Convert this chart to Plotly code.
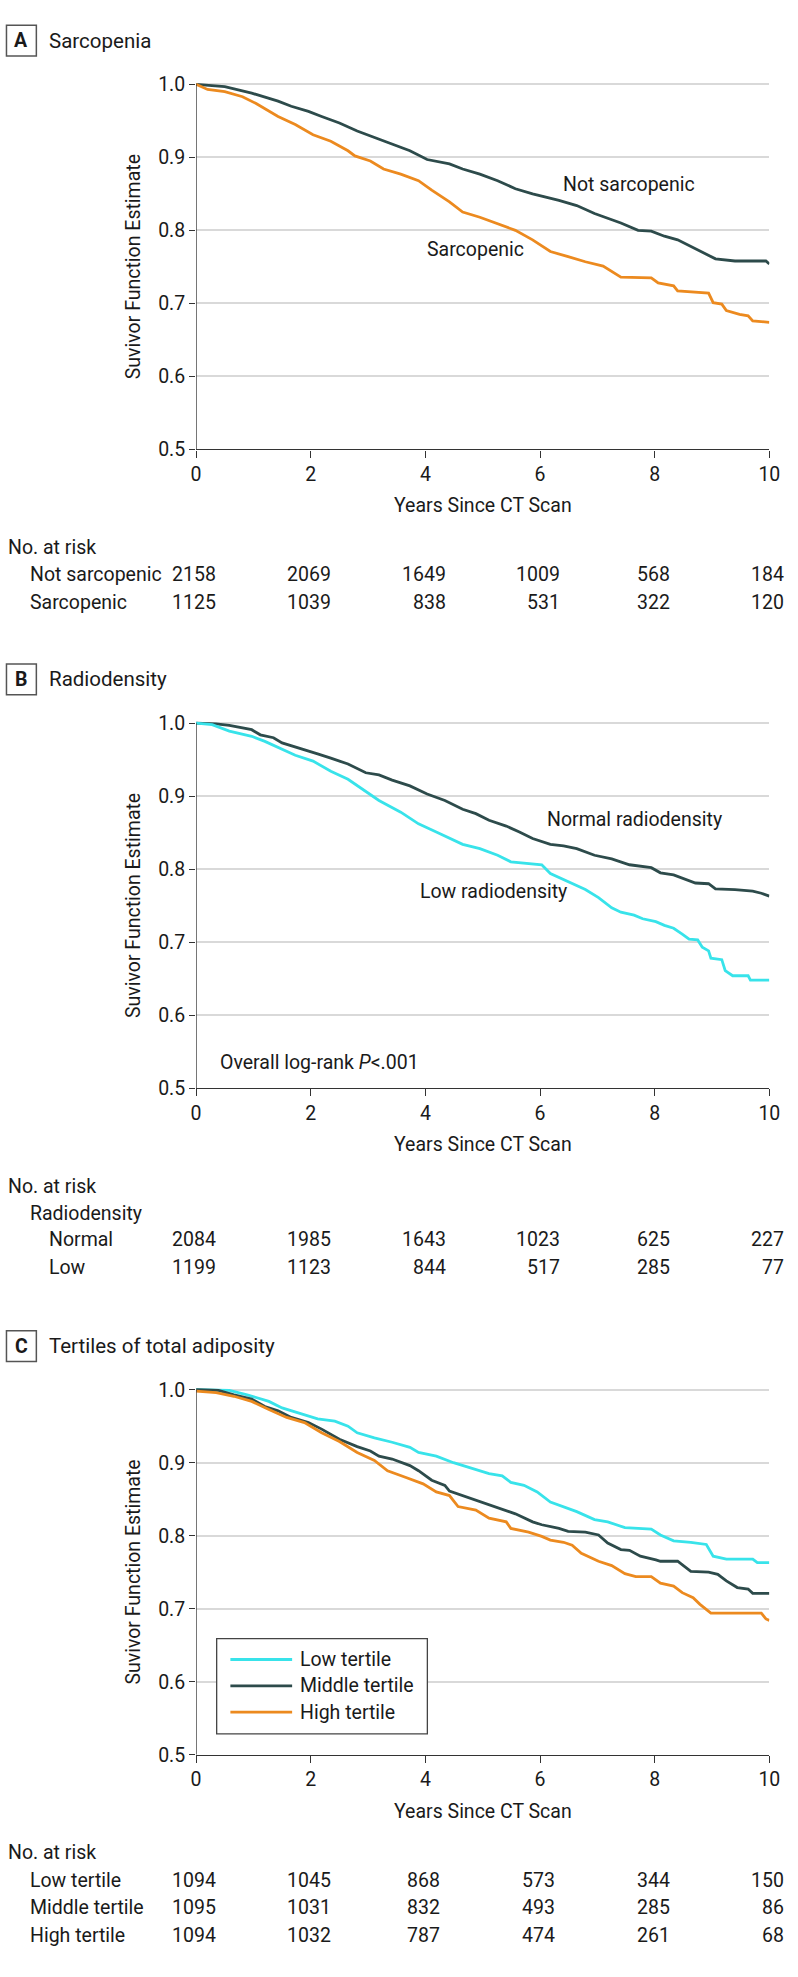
import plotly.graph_objects as go

W, H = 798, 1977
FONT = "Roboto, Open Sans, Noto Sans, DejaVu Sans, sans-serif"
FS = 19.5
TXT = "#1a1a1a"
AX = "#333333"
GRID = "#d9d9d9"
DARK = "#2d4b4b"
ORANGE = "#ec8a1f"
CYAN = "#38e3ea"

x_ticks = [0, 2, 4, 6, 8, 10]
y_ticks = [0.5, 0.6, 0.7, 0.8, 0.9, 1.0]

# ---------------- Panel A: Sarcopenia ----------------
a_not_t = [0.0, 0.16, 0.5, 0.97, 1.43, 1.66, 1.96, 2.19, 2.5, 2.81, 3.19, 3.73, 4.03, 4.42, 4.65,
           4.95, 5.26, 5.57, 5.87, 6.1, 6.33, 6.64, 6.95, 7.41, 7.71, 7.94, 8.17, 8.4, 8.63, 8.86,
           9.06, 9.4, 9.94, 10.0]
a_not_s = [1.0, 0.999, 0.997, 0.988, 0.977, 0.970, 0.963, 0.956, 0.947, 0.936, 0.925, 0.909, 0.897,
           0.891, 0.884, 0.877, 0.868, 0.857, 0.850, 0.846, 0.841, 0.834, 0.823, 0.810, 0.800, 0.799,
           0.792, 0.787, 0.778, 0.769, 0.761, 0.758, 0.758, 0.754]
a_sar_t = [0.0, 0.2, 0.5, 0.81, 1.04, 1.43, 1.73, 2.04, 2.35, 2.65, 2.77, 3.04, 3.27, 3.57, 3.88,
           4.11, 4.42, 4.65, 4.95, 5.26, 5.57, 5.87, 6.18, 6.49, 6.79, 7.1, 7.33, 7.41, 7.94, 8.06,
           8.33, 8.4, 8.94, 9.02, 9.17, 9.25, 9.48, 9.63, 9.71, 10.0]
a_sar_s = [1.0, 0.993, 0.990, 0.983, 0.974, 0.956, 0.945, 0.931, 0.922, 0.909, 0.902, 0.895, 0.884,
           0.877, 0.868, 0.855, 0.839, 0.825, 0.818, 0.809, 0.800, 0.787, 0.771, 0.764, 0.757, 0.751,
           0.739, 0.736, 0.735, 0.728, 0.724, 0.717, 0.714, 0.701, 0.699, 0.690, 0.685, 0.683, 0.676,
           0.674]
a_groups = ["Not sarcopenic", "Sarcopenic"]
a_risk = [[2158, 2069, 1649, 1009, 568, 184],
          [1125, 1039, 838, 531, 322, 120]]

# ---------------- Panel B: Radiodensity ----------------
b_norm_t = [0.0, 0.35, 0.58, 0.97, 1.12, 1.35, 1.5, 1.81, 2.12, 2.35, 2.65, 2.96, 3.19, 3.42, 3.73,
            4.03, 4.34, 4.65, 4.88, 5.11, 5.41, 5.64, 5.87, 6.18, 6.41, 6.64, 6.95, 7.25, 7.56, 7.94,
            8.1, 8.33, 8.71, 8.94, 9.06, 9.4, 9.71, 9.86, 10.0]
b_norm_s = [1.0, 0.999, 0.997, 0.991, 0.984, 0.980, 0.973, 0.966, 0.958, 0.952, 0.944, 0.932, 0.929,
            0.922, 0.914, 0.903, 0.894, 0.882, 0.876, 0.867, 0.859, 0.851, 0.842, 0.834, 0.832, 0.828,
            0.819, 0.814, 0.806, 0.802, 0.795, 0.792, 0.781, 0.780, 0.773, 0.772, 0.770, 0.767, 0.763]
b_low_t = [0.0, 0.28, 0.58, 0.97, 1.2, 1.5, 1.73, 2.04, 2.35, 2.65, 2.96, 3.19, 3.57, 3.88, 4.19,
           4.49, 4.65, 4.95, 5.26, 5.49, 5.72, 6.03, 6.18, 6.49, 6.79, 7.02, 7.25, 7.41, 7.64, 7.79,
           8.02, 8.17, 8.33, 8.48, 8.6, 8.75, 8.83, 8.94, 8.98, 9.17, 9.23, 9.36, 9.63, 9.67, 10.0]
b_low_s = [1.0, 0.998, 0.989, 0.982, 0.975, 0.964, 0.956, 0.948, 0.934, 0.923, 0.907, 0.894, 0.878,
           0.862, 0.851, 0.840, 0.834, 0.828, 0.819, 0.810, 0.808, 0.806, 0.794, 0.783, 0.772, 0.761,
           0.747, 0.741, 0.737, 0.732, 0.728, 0.723, 0.719, 0.711, 0.704, 0.703, 0.693, 0.688, 0.678,
           0.676, 0.661, 0.654, 0.654, 0.648, 0.648]
b_groups = ["Normal", "Low"]
b_risk = [[2084, 1985, 1643, 1023, 625, 227],
          [1199, 1123, 844, 517, 285, 77]]

# ---------------- Panel C: Tertiles of total adiposity ----------------
c_low_t = [0.0, 0.58, 0.89, 1.27, 1.5, 1.81, 2.12, 2.42, 2.65, 2.81, 3.11, 3.42, 3.73, 3.88, 4.19,
           4.49, 4.8, 5.11, 5.34, 5.49, 5.72, 5.95, 6.18, 6.41, 6.64, 6.95, 7.18, 7.48, 7.94, 8.1,
           8.33, 8.63, 8.9, 9.02, 9.25, 9.71, 9.79, 10.0]
c_low_s = [1.0, 0.999, 0.993, 0.984, 0.975, 0.968, 0.960, 0.957, 0.950, 0.941, 0.934, 0.928, 0.921,
           0.914, 0.909, 0.900, 0.892, 0.885, 0.882, 0.873, 0.869, 0.860, 0.846, 0.839, 0.833, 0.822,
           0.819, 0.811, 0.809, 0.801, 0.793, 0.791, 0.788, 0.772, 0.768, 0.768, 0.763, 0.763]
c_mid_t = [0.0, 0.39, 0.66, 0.97, 1.2, 1.43, 1.66, 1.96, 2.19, 2.5, 2.81, 3.04, 3.19, 3.42, 3.73,
           3.88, 4.11, 4.34, 4.42, 4.72, 5.03, 5.26, 5.57, 5.87, 6.03, 6.33, 6.49, 6.79, 7.02, 7.18,
           7.41, 7.56, 7.75, 8.02, 8.1, 8.4, 8.63, 8.94, 9.1, 9.25, 9.44, 9.63, 9.71, 10.0]
c_mid_s = [1.0, 0.999, 0.993, 0.987, 0.977, 0.971, 0.962, 0.955, 0.946, 0.932, 0.922, 0.916, 0.909,
           0.905, 0.896, 0.889, 0.876, 0.869, 0.861, 0.853, 0.844, 0.838, 0.830, 0.819, 0.815, 0.810,
           0.806, 0.805, 0.801, 0.790, 0.781, 0.780, 0.772, 0.767, 0.765, 0.765, 0.751, 0.750, 0.747,
           0.738, 0.729, 0.727, 0.721, 0.721]
c_high_t = [0.0, 0.35, 0.66, 0.97, 1.27, 1.58, 1.89, 2.19, 2.5, 2.81, 3.11, 3.34, 3.65, 3.96, 4.19,
            4.42, 4.57, 4.88, 5.11, 5.41, 5.49, 5.8, 6.03, 6.18, 6.41, 6.56, 6.72, 7.02, 7.25, 7.48,
            7.67, 7.94, 8.1, 8.33, 8.48, 8.67, 8.79, 8.98, 9.86, 9.94, 10.0]
c_high_s = [0.998, 0.996, 0.991, 0.984, 0.973, 0.962, 0.955, 0.941, 0.929, 0.914, 0.903, 0.889, 0.880,
            0.871, 0.860, 0.855, 0.840, 0.835, 0.824, 0.819, 0.810, 0.805, 0.799, 0.794, 0.791, 0.787,
            0.776, 0.765, 0.759, 0.748, 0.744, 0.744, 0.735, 0.731, 0.722, 0.715, 0.706, 0.694, 0.694,
            0.686, 0.684]
c_groups = ["Low tertile", "Middle tertile", "High tertile"]
c_risk = [[1094, 1045, 868, 573, 344, 150],
          [1095, 1031, 832, 493, 285, 86],
          [1094, 1032, 787, 474, 261, 68]]

# ---------------- layout geometry (pixels) ----------------
X0_PX, X1_PX = 195, 780          # x = 0 and x = 10
TOP_PX = [81, 725, 1397]          # y = 1.0 line per panel
PANEL_H = 368                     # pixels from 1.0 down to 0.5
Y_HI = 1.01


def px(xp):
    return xp / W


def py(yp):
    return 1 - yp / H


fig = go.Figure()

panels = [
    dict(letter="A", title="Sarcopenia",
         curves=[(a_not_t, a_not_s, DARK, "Not sarcopenic"), (a_sar_t, a_sar_s, ORANGE, "Sarcopenic")],
         groups=a_groups, risk=a_risk, subhead=None, indent=23),
    dict(letter="B", title="Radiodensity",
         curves=[(b_norm_t, b_norm_s, DARK, "Normal radiodensity"), (b_low_t, b_low_s, CYAN, "Low radiodensity")],
         groups=b_groups, risk=b_risk, subhead="Radiodensity", indent=43),
    dict(letter="C", title="Tertiles of total adiposity",
         curves=[(c_low_t, c_low_s, CYAN, "Low tertile"), (c_mid_t, c_mid_s, DARK, "Middle tertile"),
                 (c_high_t, c_high_s, ORANGE, "High tertile")],
         groups=c_groups, risk=c_risk, subhead=None, indent=23),
]

annotations = []
shapes = []

for i, p in enumerate(panels):
    k = "" if i == 0 else str(i + 1)
    top = TOP_PX[i]
    bot = top + PANEL_H
    dom_top = top - (Y_HI - 1.0) / 0.5 * PANEL_H
    xa = dict(domain=[px(X0_PX), px(X1_PX)], range=[0, 10], tickvals=x_ticks,
              ticks="outside", ticklen=7, tickwidth=1.3, tickcolor=AX,
              showline=True, linecolor=AX, linewidth=1.3, showgrid=False, zeroline=False,
              tickfont=dict(family=FONT, size=FS, color=TXT), anchor="y" + k, fixedrange=True)
    ya = dict(domain=[py(bot), py(dom_top)], range=[0.5, Y_HI], tickvals=y_ticks,
              tickformat=".1f", ticks="outside", ticklen=6, tickwidth=1.3, tickcolor=AX,
              showline=False, showgrid=True, gridcolor=GRID, gridwidth=1.5, zeroline=False,
              tickfont=dict(family=FONT, size=FS, color=TXT), anchor="x" + k, fixedrange=True)
    fig.layout["xaxis" + k] = xa
    fig.layout["yaxis" + k] = ya

    # y axis line from 0.5 to 1.0
    shapes.append(dict(type="line", xref="x" + k, yref="y" + k, x0=0, x1=0, y0=0.5, y1=1.0,
                       line=dict(color=AX, width=1.3)))

    for (t, s, col, name) in p["curves"]:
        fig.add_trace(go.Scatter(x=t, y=s, mode="lines", line=dict(color=col, width=2.8),
                                 name=name, showlegend=False, xaxis="x" + k, yaxis="y" + k,
                                 hoverinfo="skip"))

    # panel letter box + title
    cy = top - 44
    shapes.append(dict(type="rect", xref="paper", yref="paper", x0=px(1.5), x1=px(32),
                       y0=py(cy + 15.5), y1=py(cy - 15.5), line=dict(color="#555555", width=1.5),
                       fillcolor="white"))
    annotations.append(dict(text="<b>" + p["letter"] + "</b>", x=px(16.5), y=py(cy), xref="paper",
                            yref="paper", showarrow=False, xanchor="center", yanchor="middle",
                            font=dict(family=FONT, size=FS, color=TXT)))
    annotations.append(dict(text=p["title"], x=px(43), y=py(cy), xref="paper", yref="paper",
                            showarrow=False, xanchor="left", yanchor="middle",
                            font=dict(family=FONT, size=FS + 1, color=TXT)))

    # y axis title
    annotations.append(dict(text="Suvivor Function Estimate", x=px(131), y=py(top + PANEL_H / 2),
                            xref="paper", yref="paper", showarrow=False, textangle=-90,
                            xanchor="center", yanchor="middle",
                            font=dict(family=FONT, size=FS, color=TXT)))
    # x axis title
    annotations.append(dict(text="Years Since CT Scan", x=px((X0_PX + X1_PX) / 2), y=py(bot + 57),
                            xref="paper", yref="paper", showarrow=False, xanchor="center",
                            yanchor="middle", font=dict(family=FONT, size=FS, color=TXT)))

    # number at risk table
    ry = bot + 99
    annotations.append(dict(text="No. at risk", x=px(1), y=py(ry), xref="paper", yref="paper",
                            showarrow=False, xanchor="left", yanchor="middle",
                            font=dict(family=FONT, size=FS, color=TXT)))
    ry += 27.5
    if p["subhead"]:
        annotations.append(dict(text=p["subhead"], x=px(23), y=py(ry), xref="paper", yref="paper",
                                showarrow=False, xanchor="left", yanchor="middle",
                                font=dict(family=FONT, size=FS, color=TXT)))
        ry += 26.5
    ncols = len(x_ticks)
    widest = [max(len(str(row[j])) for row in p["risk"]) for j in range(ncols)]
    for g, row in zip(p["groups"], p["risk"]):
        annotations.append(dict(text=g, x=px(p["indent"]), y=py(ry), xref="paper", yref="paper",
                                showarrow=False, xanchor="left", yanchor="middle",
                                font=dict(family=FONT, size=FS, color=TXT)))
        for j, v in enumerate(row):
            annotations.append(dict(text=str(v), x=x_ticks[j], y=py(ry), xref="x" + k, yref="paper",
                                    showarrow=False, xanchor="right", yanchor="middle",
                                    xshift=widest[j] * 5.6,
                                    font=dict(family=FONT, size=FS, color=TXT)))
        ry += 28

# in-plot curve labels
annotations += [
    dict(text="Not sarcopenic", x=6.37, y=0.863, xref="x", yref="y", showarrow=False,
         xanchor="left", yanchor="middle", font=dict(family=FONT, size=FS, color=TXT)),
    dict(text="Sarcopenic", x=3.99, y=0.774, xref="x", yref="y", showarrow=False,
         xanchor="left", yanchor="middle", font=dict(family=FONT, size=FS, color=TXT)),
    dict(text="Normal radiodensity", x=6.08, y=0.868, xref="x2", yref="y2", showarrow=False,
         xanchor="left", yanchor="middle", font=dict(family=FONT, size=FS, color=TXT)),
    dict(text="Low radiodensity", x=3.87, y=0.769, xref="x2", yref="y2", showarrow=False,
         xanchor="left", yanchor="middle", font=dict(family=FONT, size=FS, color=TXT)),
    dict(text="Overall log-rank <i>P</i>&lt;.001", x=0.38, y=0.535, xref="x2", yref="y2",
         showarrow=False, xanchor="left", yanchor="middle", font=dict(family=FONT, size=FS, color=TXT)),
]

# legend for panel C (manual box)
leg_items = [(CYAN, "Low tertile"), (DARK, "Middle tertile"), (ORANGE, "High tertile")]
shapes.append(dict(type="rect", xref="paper", yref="paper", x0=px(216), x1=px(431),
                   y0=py(1744), y1=py(1648), line=dict(color="#444444", width=1.3),
                   fillcolor="white", layer="above"))
for n, (col, lab) in enumerate(leg_items):
    yy = 1669 + n * 26.5
    shapes.append(dict(type="line", xref="paper", yref="paper", x0=px(230), x1=px(293),
                       y0=py(yy), y1=py(yy), line=dict(color=col, width=2.8)))
    annotations.append(dict(text=lab, x=px(299), y=py(yy), xref="paper", yref="paper",
                            showarrow=False, xanchor="left", yanchor="middle",
                            font=dict(family=FONT, size=FS, color=TXT)))

fig.update_layout(width=W, height=H, margin=dict(l=0, r=0, t=0, b=0),
                  paper_bgcolor="white", plot_bgcolor="white", showlegend=False,
                  annotations=annotations, shapes=shapes,
                  font=dict(family=FONT, size=FS, color=TXT))

fig.write_html("out.html", config={"displayModeBar": False},
               post_script="document.body.style.margin='0px';")
